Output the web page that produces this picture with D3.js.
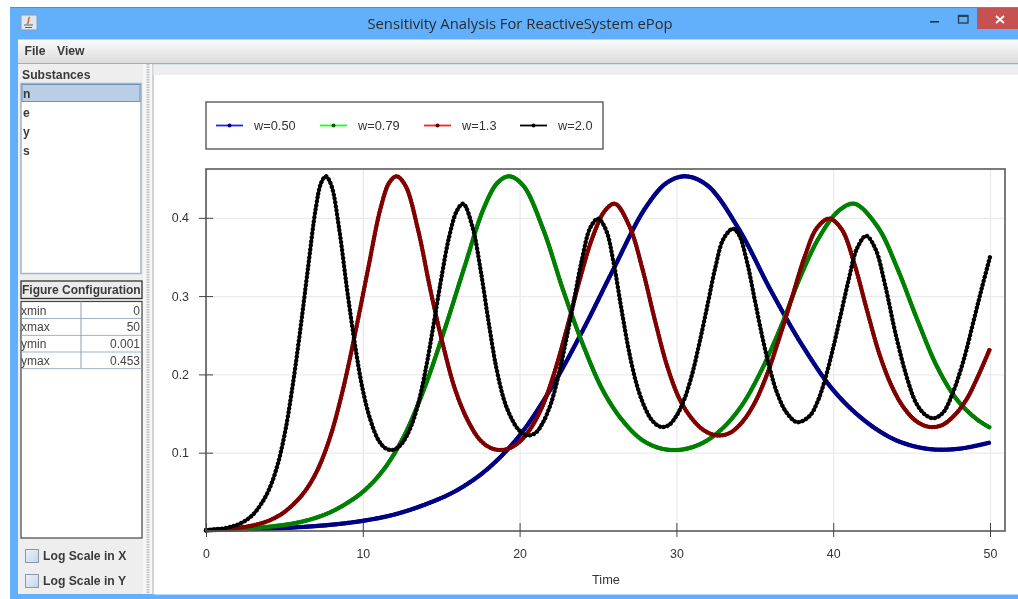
<!DOCTYPE html>
<html>
<head>
<meta charset="utf-8">
<script src="https://d3js.org/d3.v7.min.js"></script>
<style>
  html, body { margin: 0; padding: 0; background: #fff; }
  svg { display: block; filter: blur(0.35px); }
  text { font-family: "Liberation Sans", Arial, sans-serif; }
  .ui { font-size: 12.2px; font-weight: bold; fill: #3a3a3a; }
  .cell { font-size: 12px; fill: #444; }
  .axis text { font-size: 12.4px; fill: #333; }
  .legend-text, .axis-title { font-size: 12.8px; fill: #333; }
</style>
</head>
<body>
<div id="chart"></div>
<script>
// values
let seriesNames = ["w=0.50", "w=0.79", "w=1.3", "w=2.0"];
let xTicks = [0, 10, 20, 30, 40, 50];
let yTicks = [0.1, 0.2, 0.3, 0.4];
let substances = ["n", "e", "y", "s"];
let configNames = ["xmin", "xmax", "ymin", "ymax"];
let configValues = ["0", "50", "0.001", "0.453"];

let timeBlue = [0, 2, 4, 6, 8, 10, 12, 14, 16, 18, 20, 22, 24, 26, 28, 29.4, 30.6, 32, 34, 36, 38, 40, 42, 44, 46, 48, 50];
let valueBlue = [0.001, 0.002, 0.003, 0.005, 0.008, 0.013, 0.021, 0.034, 0.052, 0.08, 0.122, 0.182, 0.255, 0.335, 0.412, 0.445, 0.453, 0.441, 0.385, 0.308, 0.238, 0.18, 0.141, 0.116, 0.105, 0.105, 0.113];

let timeGreen = [0, 1.27, 2.53, 3.80, 5.06, 6.33, 7.59, 8.86, 10.12, 11.39, 12.65, 13.92, 15.18, 16.45, 17.71, 18.60, 19.35, 20.24, 21.51, 22.77, 24.04, 25.30, 26.57, 27.83, 29.10, 30.36, 31.63, 32.89, 34.16, 35.42, 36.69, 37.85, 39.10, 40.35, 41.35, 42.85, 44.10, 45.36, 46.62, 47.88, 49.14, 50];
let valueGreen = [0.001, 0.002, 0.003, 0.005, 0.008, 0.013, 0.021, 0.034, 0.052, 0.08, 0.122, 0.182, 0.255, 0.335, 0.412, 0.445, 0.453, 0.441, 0.385, 0.308, 0.238, 0.18, 0.141, 0.116, 0.105, 0.104, 0.112, 0.13, 0.16, 0.205, 0.262, 0.322, 0.375, 0.409, 0.418, 0.388, 0.335, 0.27, 0.21, 0.168, 0.143, 0.132];

let timeRed = [0, 0.80, 1.59, 2.39, 3.18, 3.98, 4.77, 5.57, 6.36, 7.16, 7.95, 8.75, 9.54, 10.34, 11.13, 11.69, 12.16, 12.72, 13.52, 14.31, 15.11, 15.90, 16.70, 17.49, 18.29, 19.08, 19.88, 20.67, 21.47, 22.26, 23.06, 23.85, 24.65, 25.44, 26.08, 27.03, 27.83, 28.62, 29.42, 30.21, 31.01, 31.80, 32.60, 33.39, 34.19, 34.98, 35.78, 36.57, 37.37, 38.16, 38.96, 39.75, 40.55, 41.34, 42.14, 42.93, 43.73, 44.52, 45.32, 46.11, 46.91, 47.70, 48.50, 49.29, 50];
let valueRed = [0.001, 0.002, 0.003, 0.005, 0.008, 0.013, 0.021, 0.034, 0.052, 0.08, 0.122, 0.182, 0.255, 0.335, 0.412, 0.445, 0.453, 0.441, 0.385, 0.308, 0.238, 0.18, 0.141, 0.116, 0.105, 0.104, 0.112, 0.13, 0.16, 0.205, 0.262, 0.322, 0.375, 0.409, 0.418, 0.388, 0.335, 0.27, 0.21, 0.168, 0.143, 0.128, 0.122, 0.125, 0.139, 0.163, 0.2, 0.247, 0.298, 0.349, 0.387, 0.399, 0.385, 0.342, 0.283, 0.227, 0.185, 0.157, 0.14, 0.133, 0.135, 0.147, 0.168, 0.2, 0.233];

let timeBlack = [0, 0.5, 1, 1.5, 2, 2.5, 3, 3.5, 4, 4.5, 5, 5.5, 6, 6.5, 7, 7.35, 7.65, 8, 8.5, 9, 9.5, 10, 10.5, 11, 11.5, 12, 12.5, 13, 13.5, 14, 14.5, 15, 15.5, 16, 16.4, 17, 17.5, 18, 18.5, 19, 19.5, 20, 20.5, 21, 21.5, 22, 22.5, 23, 23.5, 24, 24.5, 25, 25.5, 26, 26.5, 27, 27.5, 28, 28.5, 29, 29.5, 30, 30.5, 31, 31.5, 32, 32.5, 33, 33.6, 34, 34.5, 35, 35.5, 36, 36.5, 37, 37.7, 38.5, 39, 39.5, 40, 40.5, 41, 41.5, 42.1, 42.7, 43.3, 44, 44.7, 45.3, 45.9, 46.4, 47, 47.6, 48.3, 49, 49.5, 50];
let valueBlack = [0.001, 0.002, 0.003, 0.005, 0.008, 0.013, 0.021, 0.034, 0.052, 0.08, 0.122, 0.182, 0.255, 0.335, 0.412, 0.445, 0.453, 0.441, 0.385, 0.308, 0.238, 0.18, 0.141, 0.116, 0.105, 0.104, 0.112, 0.13, 0.16, 0.205, 0.262, 0.322, 0.375, 0.409, 0.418, 0.388, 0.335, 0.27, 0.21, 0.168, 0.143, 0.128, 0.122, 0.125, 0.139, 0.163, 0.2, 0.247, 0.298, 0.349, 0.387, 0.399, 0.385, 0.342, 0.283, 0.227, 0.185, 0.157, 0.14, 0.133, 0.135, 0.147, 0.168, 0.2, 0.243, 0.29, 0.338, 0.373, 0.386, 0.378, 0.344, 0.295, 0.246, 0.204, 0.172, 0.152, 0.139, 0.147, 0.165, 0.195, 0.234, 0.278, 0.322, 0.36, 0.377, 0.36, 0.315, 0.25, 0.196, 0.163, 0.148, 0.144, 0.151, 0.175, 0.217, 0.272, 0.312, 0.35];

let allTimes = [timeBlue, timeGreen, timeRed, timeBlack];
let allValues = [valueBlue, valueGreen, valueRed, valueBlack];

// styles
let lineColors = ["#000085", "#008000", "#800000", "#000000"];
let legendColors = ["#1f1fff", "#1fff1f", "#ff1f1f", "#000000"];
let legendDots = ["#000080", "#006000", "#600000", "#000000"];
let legendLeft = [216, 320, 424, 520];
let baseWidths = [3.8, 3.8, 3.6, 2.8];
let beadGaps = [1.6, 2, 2.7, 4];

let svg = d3.select("#chart").append("svg")
    .attr("width", 1018)
    .attr("height", 599);

let defs = svg.append("defs");
let menuGrad = defs.append("linearGradient").attr("id", "menuGrad").attr("x2", 0).attr("y2", 1);
menuGrad.append("stop").attr("offset", 0).attr("stop-color", "#fbfbfb");
menuGrad.append("stop").attr("offset", 1).attr("stop-color", "#dcdcdc");
let boxGrad = defs.append("linearGradient").attr("id", "boxGrad").attr("x2", 1).attr("y2", 1);
boxGrad.append("stop").attr("offset", 0).attr("stop-color", "#eef3f8");
boxGrad.append("stop").attr("offset", 1).attr("stop-color", "#c3d5e8");

function box(x, y, w, h, fill, stroke, sw) {
    return svg.append("rect")
        .attr("x", x).attr("y", y).attr("width", w).attr("height", h)
        .attr("fill", fill)
        .attr("stroke", stroke || "none")
        .attr("stroke-width", sw || 0);
}

// window frame
box(10, 7, 1008, 592, "#62b0fb");
box(10, 7, 1008, 1, "#4f8fd0");
box(977, 8, 41, 21, "#c75050");
svg.append("path").attr("d", "M996 16L1004 23M1004 16L996 23")
    .attr("stroke", "#fff").attr("stroke-width", 1.8);
box(930, 21, 9, 1.6, "#22333f");
box(958.5, 15.5, 9.5, 7.5, "none", "#2a4055", 1.4);
box(958.5, 15.5, 9.5, 1.5, "#2a4055");
box(21, 15, 16, 15, "#dfe6ee", "#8a9bb0", 1);
svg.append("path").attr("d", "M30 17C26 20 31 21 27 24")
    .attr("fill", "none").attr("stroke", "#d2691e").attr("stroke-width", 1.5);
svg.append("path").attr("d", "M24 25H33M25 27.5H32")
    .attr("stroke", "#44688c").attr("stroke-width", 1);
svg.append("text")
    .attr("x", 520).attr("y", 29)
    .attr("text-anchor", "middle")
    .style("font-family", "'Open Sans', sans-serif")
    .style("font-size", "14.8px")
    .style("fill", "#2b2b2b")
    .text("Sensitivity Analysis For ReactiveSystem ePop");

// menu bar
box(18, 39.5, 1000, 24, "url(#menuGrad)");
box(18, 63, 1000, 1.5, "#a6abb3");
svg.append("text").attr("class", "ui").attr("x", 24.5).attr("y", 55).text("File");
svg.append("text").attr("class", "ui").attr("x", 57).attr("y", 55).text("View");

// left panel
box(18, 64, 135, 530, "#eeeeee");
svg.append("text").attr("class", "ui").attr("x", 22).attr("y", 79).text("Substances");
box(21, 83.5, 120, 190, "#ffffff", "#a5b4c4", 1.5);
box(22, 84.5, 118, 17, "#b8cfe6", "#7090c0", 1);
substances.forEach(function(d, i) {
    svg.append("text").attr("class", "ui")
        .attr("x", 23).attr("y", 98 + i * 19)
        .text(d);
});

// splitter
box(143, 64, 10, 530, "#f6f6f6");
svg.append("line")
    .attr("x1", 148).attr("x2", 148).attr("y1", 64).attr("y2", 594)
    .attr("stroke", "#c4c4c4").attr("stroke-width", 3)
    .attr("stroke-dasharray", "1.5 1");
box(152.5, 64, 1, 530, "#aab2ba");

// figure configuration table
box(21, 281, 121, 17.5, "#ebebeb", "#333", 1.3);
svg.append("text").attr("class", "ui")
    .attr("x", 22).attr("y", 294)
    .style("font-size", "12px")
    .text("Figure Configuration");
box(21, 301.5, 121, 236.5, "#ffffff", "#444", 1.2);
configNames.forEach(function(d, i) {
    let rowY = 301.5 + i * 16.7;
    box(21, rowY + 16.7, 121, 0.8, "#8ba0b5");
    svg.append("text").attr("class", "cell").attr("x", 21).attr("y", rowY + 13).text(d);
    svg.append("text").attr("class", "cell")
        .attr("x", 140).attr("y", rowY + 13)
        .attr("text-anchor", "end")
        .text(configValues[i]);
});
box(80.5, 301.5, 1, 66.8, "#8ba0b5");

// check boxes
["Log Scale in X", "Log Scale in Y"].forEach(function(d, i) {
    box(25.5, 549.5 + i * 25, 13, 13, "url(#boxGrad)", "#8a98a8", 1);
    svg.append("text").attr("class", "ui")
        .attr("x", 43).attr("y", 560 + i * 25)
        .text(d);
});

// plot panel
box(153.5, 64.5, 864.5, 530, "#ffffff");
box(153.5, 64.5, 864.5, 10.5, "#eeeeee");

// plot
let xScale = d3.scaleLinear().domain([0, 50]).range([206, 990]);
let yScale = d3.scaleLinear().domain([0, 0.1]).range([531, 452.7]);
let plotLeft = 206, plotRight = 1005, plotTop = 169, plotBottom = 531;

// grid
let xGrid = d3.axisBottom(xScale).tickValues(xTicks).tickFormat("").tickSize(plotTop - plotBottom);
let yGrid = d3.axisLeft(yScale).tickValues(yTicks).tickFormat("").tickSize(plotLeft - plotRight);
svg.append("g").attr("transform", "translate(0," + plotBottom + ")").call(xGrid)
    .call(function(g) { g.select(".domain").remove(); })
    .selectAll("line").attr("stroke", "#ebebeb").attr("stroke-width", 1.3);
svg.append("g").attr("transform", "translate(" + plotLeft + ",0)").call(yGrid)
    .call(function(g) { g.select(".domain").remove(); })
    .selectAll("line").attr("stroke", "#ebebeb").attr("stroke-width", 1.3);

// curves
let line = d3.line()
    .x(function(d) { return xScale(d[0]); })
    .y(function(d) { return yScale(d[1]); })
    .curve(d3.curveCatmullRom.alpha(0.5));

seriesNames.forEach(function(name, i) {
    let points = d3.zip(allTimes[i], allValues[i]);
    svg.append("path")
        .datum(points)
        .attr("fill", "none")
        .attr("stroke", lineColors[i])
        .attr("stroke-width", baseWidths[i])
        .attr("d", line);
    // the original draws a point at every sample, which beads the line
    svg.append("path")
        .datum(points)
        .attr("fill", "none")
        .attr("stroke", lineColors[i])
        .attr("stroke-width", 4.4)
        .attr("stroke-linecap", "round")
        .attr("stroke-dasharray", "0.01 " + beadGaps[i])
        .attr("d", line);
});

// frame and axes
box(plotLeft, plotTop, plotRight - plotLeft, plotBottom - plotTop, "none", "#5a5a5a", 1.6);

let xAxis = d3.axisBottom(xScale).tickValues(xTicks).tickSize(6).tickPadding(12).tickFormat(d3.format("d"));
let yAxis = d3.axisLeft(yScale).tickValues(yTicks).tickSize(7).tickPadding(10).tickFormat(d3.format(".1f"));
let gx = svg.append("g").attr("class", "axis").attr("transform", "translate(0," + plotBottom + ")").call(xAxis);
let gy = svg.append("g").attr("class", "axis").attr("transform", "translate(" + plotLeft + ",0)").call(yAxis);
gx.select(".domain").remove();
gy.select(".domain").remove();
gx.selectAll("line").attr("y1", -8).attr("stroke", "#444");
gy.selectAll("line").attr("x1", 7).attr("stroke", "#444");

svg.append("text")
    .attr("class", "axis-title")
    .attr("x", 606).attr("y", 584)
    .attr("text-anchor", "middle")
    .text("Time");

// legend
box(206, 102, 397, 47, "#ffffff", "#5a5a5a", 1.4);
seriesNames.forEach(function(name, i) {
    let left = legendLeft[i];
    svg.append("line")
        .attr("x1", left).attr("x2", left + 27)
        .attr("y1", 125.5).attr("y2", 125.5)
        .attr("stroke", legendColors[i])
        .attr("stroke-width", 1.8);
    svg.append("circle")
        .attr("cx", left + 13.5).attr("cy", 125.5).attr("r", 2)
        .attr("fill", legendDots[i]);
    svg.append("text")
        .attr("class", "legend-text")
        .attr("x", left + 38).attr("y", 130)
        .text(name);
});
</script>
</body>
</html>
